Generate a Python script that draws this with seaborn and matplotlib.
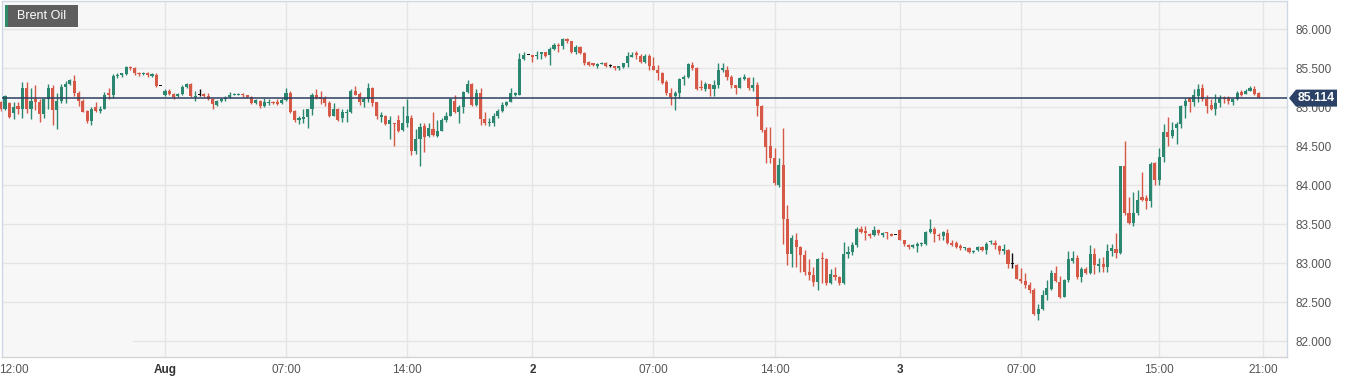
import numpy as np
import pandas as pd
import matplotlib
matplotlib.use("Agg")
import matplotlib.pyplot as plt
import seaborn as sns
from matplotlib.patches import Polygon, Rectangle

# ---------------- data (15-minute candles) ----------------
opens = [85.06, 84.97, 85.05, 84.92, 85.01, 84.98, 85.25, 84.97, 85.10, 85.06,
         84.91, 85.10, 85.25, 84.96, 85.08, 85.26, 85.30, 85.33, 85.18, 85.08,
         84.95, 84.82, 85.00, 84.95, 84.98, 85.18, 85.15, 85.40, 85.41, 85.42,
         85.51, 85.50, 85.44, 85.42, 85.44, 85.40, 85.41, 85.27, 85.16, 85.21,
         85.17, 85.14, 85.17, 85.26, 85.30, 85.13, 85.16, 85.17, 85.14, 85.10,
         85.03, 85.08, 85.10, 85.13, 85.15, 85.15, 85.17, 85.15, 85.13, 85.05,
         85.08, 85.01, 85.05, 85.07, 85.06, 85.05, 85.09, 85.18, 84.95, 84.83,
         84.85, 84.87, 84.97, 85.16, 85.13, 85.12, 85.05, 84.88, 84.98, 84.86,
         84.92, 84.94, 85.21, 85.17, 85.06, 85.10, 85.24, 85.06, 84.87, 84.89,
         84.78, 84.79, 84.83, 84.70, 84.79, 84.86, 84.43, 84.59, 84.76, 84.63,
         84.72, 84.63, 84.69, 84.83, 84.89, 85.08, 84.94, 85.00, 85.19, 85.30,
         85.03, 85.18, 84.84, 84.79, 84.80, 84.89, 84.95, 85.03, 85.07, 85.15,
         85.16, 85.61, 85.67, 85.67, 85.65, 85.68, 85.70, 85.67, 85.75, 85.80,
         85.78, 85.87, 85.84, 85.71, 85.765, 85.69, 85.58, 85.56, 85.53, 85.55,
         85.56, 85.525, 85.525, 85.50, 85.51, 85.56, 85.645, 85.69, 85.65, 85.58,
         85.65, 85.525, 85.48, 85.44, 85.32, 85.18, 85.14, 85.18, 85.36, 85.39,
         85.54, 85.50, 85.26, 85.23, 85.29, 85.23, 85.28, 85.47, 85.47, 85.39,
         85.28, 85.25, 85.36, 85.37, 85.25, 85.28, 85.01, 84.71, 84.50, 84.34,
         84.00, 84.26, 83.57, 83.12, 83.30, 83.21, 83.10, 82.88, 82.85, 82.76,
         83.06, 83.05, 82.74, 82.85, 82.82, 82.74, 83.11, 83.14, 83.23, 83.43,
         83.41, 83.37, 83.36, 83.42, 83.36, 83.39, 83.37, 83.36, 83.42, 83.29,
         83.23, 83.21, 83.22, 83.24, 83.24, 83.40, 83.43, 83.36, 83.35, 83.39,
         83.26, 83.26, 83.22, 83.19, 83.19, 83.14, 83.17, 83.20, 83.17, 83.27,
         83.26, 83.22, 83.16, 83.17, 82.99, 82.98, 82.80, 82.77, 82.72, 82.65,
         82.35, 82.41, 82.59, 82.67, 82.87, 82.76, 82.57, 82.78, 83.03, 83.06,
         82.82, 82.92, 82.87, 83.12, 82.96, 82.99, 82.95, 83.15, 83.18, 83.13,
         84.24, 83.64, 83.51, 83.64, 83.85, 83.83, 83.79, 84.28, 84.07, 84.36,
         84.68, 84.63, 84.73, 84.78, 85.01, 85.11, 85.07, 85.14, 85.24, 85.10,
         85.03, 84.98, 85.05, 85.12, 85.11, 85.07, 85.10, 85.19, 85.17, 85.21,
         85.23, 85.18]
highs = [85.08, 85.16, 85.06, 85.06, 85.06, 85.32, 85.32, 85.25, 85.28, 85.10,
         85.11, 85.30, 85.28, 85.18, 85.30, 85.33, 85.36, 85.41, 85.20, 85.10,
         84.96, 85.00, 85.06, 85.01, 85.19, 85.24, 85.42, 85.43, 85.44, 85.53,
         85.53, 85.51, 85.45, 85.45, 85.45, 85.44, 85.43, 85.27, 85.23, 85.23,
         85.18, 85.18, 85.28, 85.31, 85.31, 85.21, 85.23, 85.18, 85.18, 85.11,
         85.09, 85.11, 85.14, 85.19, 85.18, 85.18, 85.18, 85.15, 85.14, 85.10,
         85.09, 85.11, 85.10, 85.08, 85.10, 85.11, 85.25, 85.21, 84.96, 84.88,
         84.97, 84.98, 85.18, 85.23, 85.20, 85.14, 85.08, 85.05, 84.99, 84.98,
         84.98, 85.23, 85.27, 85.19, 85.13, 85.31, 85.26, 85.07, 84.94, 84.90,
         84.88, 84.80, 84.90, 85.01, 85.10, 84.90, 84.72, 84.80, 84.79, 84.79,
         84.94, 84.83, 84.86, 84.94, 85.11, 85.16, 85.03, 85.20, 85.35, 85.31,
         85.23, 85.24, 84.94, 84.86, 84.92, 84.98, 85.06, 85.08, 85.24, 85.19,
         85.69, 85.70, 85.67, 85.67, 85.72, 85.71, 85.71, 85.77, 85.82, 85.82,
         85.89, 85.88, 85.85, 85.79, 85.78, 85.70, 85.59, 85.56, 85.57, 85.58,
         85.58, 85.545, 85.525, 85.53, 85.57, 85.71, 85.71, 85.72, 85.68, 85.68,
         85.68, 85.64, 85.54, 85.45, 85.35, 85.24, 85.21, 85.37, 85.41, 85.57,
         85.58, 85.51, 85.35, 85.32, 85.30, 85.35, 85.56, 85.56, 85.525, 85.41,
         85.28, 85.39, 85.42, 85.39, 85.39, 85.32, 85.03, 84.75, 84.74, 84.47,
         84.34, 84.73, 83.74, 83.36, 83.38, 83.22, 83.17, 83.05, 82.95, 83.07,
         83.14, 83.07, 82.92, 82.95, 82.83, 83.27, 83.22, 83.27, 83.46, 83.47,
         83.47, 83.38, 83.47, 83.44, 83.40, 83.40, 83.39, 83.36, 83.44, 83.30,
         83.25, 83.25, 83.27, 83.27, 83.41, 83.57, 83.46, 83.38, 83.41, 83.43,
         83.29, 83.28, 83.24, 83.21, 83.20, 83.17, 83.22, 83.22, 83.27, 83.30,
         83.29, 83.23, 83.24, 83.18, 83.13, 82.99, 82.93, 82.87, 82.76, 82.68,
         82.47, 82.65, 82.78, 82.91, 82.96, 82.83, 82.80, 83.15, 83.15, 83.10,
         82.95, 82.95, 83.23, 83.19, 83.06, 83.08, 83.25, 83.24, 83.38, 84.24,
         84.56, 83.85, 83.91, 83.93, 84.17, 83.87, 84.30, 84.30, 84.47, 84.78,
         84.87, 84.81, 84.81, 85.03, 85.11, 85.13, 85.23, 85.30, 85.30, 85.15,
         85.10, 85.17, 85.15, 85.14, 85.14, 85.11, 85.20, 85.22, 85.23, 85.27,
         85.27, 85.19]
lows = [84.95, 84.96, 84.86, 84.85, 84.91, 84.86, 84.92, 84.85, 84.96, 84.81,
        84.86, 84.98, 84.77, 84.72, 85.05, 85.05, 85.28, 85.14, 85.01, 84.93,
        84.79, 84.77, 84.93, 84.92, 84.97, 85.10, 85.12, 85.37, 85.39, 85.41,
        85.48, 85.41, 85.40, 85.41, 85.39, 85.38, 85.26, 85.27, 85.14, 85.16,
        85.10, 85.13, 85.16, 85.24, 85.13, 85.08, 85.14, 85.13, 85.09, 84.98,
        85.01, 85.06, 85.08, 85.12, 85.15, 85.15, 85.13, 85.12, 85.04, 85.04,
        84.99, 85.00, 85.03, 85.04, 85.03, 85.04, 85.08, 84.92, 84.81, 84.78,
        84.79, 84.73, 84.90, 85.10, 85.04, 85.01, 84.87, 84.88, 84.82, 84.81,
        84.81, 84.92, 85.15, 85.03, 85.00, 85.06, 85.01, 84.84, 84.81, 84.77,
        84.59, 84.50, 84.68, 84.69, 84.75, 84.38, 84.40, 84.24, 84.42, 84.61,
        84.63, 84.61, 84.69, 84.81, 84.88, 84.92, 84.79, 84.92, 85.18, 85.01,
        85.01, 84.77, 84.77, 84.76, 84.76, 84.86, 84.93, 85.01, 85.06, 85.14,
        85.15, 85.60, 85.67, 85.58, 85.62, 85.62, 85.645, 85.54, 85.73, 85.70,
        85.75, 85.825, 85.69, 85.68, 85.68, 85.54, 85.525, 85.525, 85.50, 85.55,
        85.51, 85.51, 85.47, 85.475, 85.50, 85.51, 85.64, 85.62, 85.57, 85.56,
        85.48, 85.475, 85.35, 85.30, 85.15, 85.03, 84.96, 85.11, 85.28, 85.37,
        85.48, 85.22, 85.22, 85.21, 85.14, 85.14, 85.25, 85.45, 85.35, 85.25,
        85.17, 85.24, 85.34, 85.22, 85.21, 84.88, 84.68, 84.28, 84.28, 84.00,
        83.98, 83.25, 82.97, 82.95, 82.95, 82.89, 82.85, 82.78, 82.70, 82.66,
        82.74, 82.72, 82.73, 82.78, 82.72, 82.73, 83.06, 83.10, 83.21, 83.38,
        83.30, 83.32, 83.35, 83.36, 83.33, 83.31, 83.34, 83.36, 83.29, 83.22,
        83.18, 83.19, 83.14, 83.22, 83.23, 83.39, 83.27, 83.30, 83.30, 83.24,
        83.22, 83.19, 83.17, 83.17, 83.13, 83.13, 83.15, 83.16, 83.12, 83.24,
        83.18, 83.12, 83.12, 82.93, 82.93, 82.80, 82.75, 82.68, 82.61, 82.33,
        82.27, 82.40, 82.53, 82.66, 82.76, 82.55, 82.56, 82.76, 83.00, 82.80,
        82.76, 82.86, 82.86, 82.86, 82.89, 82.88, 82.88, 83.09, 83.07, 83.12,
        83.62, 83.50, 83.47, 83.61, 83.79, 83.69, 83.72, 84.00, 84.00, 84.30,
        84.50, 84.60, 84.53, 84.73, 84.86, 84.94, 85.01, 85.07, 85.08, 84.92,
        84.96, 84.90, 85.00, 85.05, 85.04, 85.03, 85.09, 85.14, 85.17, 85.20,
        85.15, 85.11]
closes = [84.97, 85.14, 84.87, 85.00, 84.98, 85.25, 84.97, 85.08, 85.06, 84.91,
          85.10, 85.25, 84.96, 85.08, 85.26, 85.30, 85.34, 85.18, 85.08, 84.94,
          84.82, 84.98, 84.95, 84.98, 85.16, 85.15, 85.40, 85.41, 85.43, 85.51,
          85.50, 85.43, 85.42, 85.44, 85.41, 85.42, 85.27, 85.27, 85.21, 85.17,
          85.13, 85.17, 85.26, 85.30, 85.14, 85.14, 85.16, 85.14, 85.10, 85.04,
          85.08, 85.10, 85.12, 85.16, 85.17, 85.17, 85.15, 85.13, 85.05, 85.09,
          85.01, 85.07, 85.06, 85.05, 85.04, 85.09, 85.18, 84.93, 84.83, 84.86,
          84.87, 84.97, 85.16, 85.12, 85.10, 85.05, 84.88, 84.97, 84.83, 84.93,
          84.94, 85.21, 85.16, 85.06, 85.10, 85.24, 85.05, 84.88, 84.90, 84.78,
          84.83, 84.78, 84.69, 84.79, 84.88, 84.43, 84.59, 84.74, 84.62, 84.73,
          84.64, 84.69, 84.83, 84.89, 85.10, 84.94, 85.00, 85.19, 85.30, 85.03,
          85.18, 84.84, 84.79, 84.81, 84.89, 84.95, 85.03, 85.07, 85.18, 85.18,
          85.61, 85.67, 85.67, 85.645, 85.67, 85.70, 85.66, 85.75, 85.79, 85.78,
          85.87, 85.84, 85.71, 85.765, 85.69, 85.57, 85.54, 85.54, 85.55, 85.57,
          85.53, 85.525, 85.50, 85.525, 85.56, 85.65, 85.67, 85.67, 85.58, 85.65,
          85.525, 85.48, 85.43, 85.31, 85.18, 85.13, 85.18, 85.36, 85.39, 85.55,
          85.50, 85.23, 85.24, 85.29, 85.23, 85.28, 85.48, 85.50, 85.39, 85.28,
          85.25, 85.37, 85.38, 85.25, 85.28, 85.01, 84.71, 84.49, 84.34, 84.02,
          84.26, 83.57, 83.12, 83.32, 83.21, 83.10, 82.88, 82.85, 82.76, 83.05,
          83.05, 82.74, 82.86, 82.82, 82.74, 83.11, 83.14, 83.23, 83.43, 83.40,
          83.38, 83.35, 83.42, 83.38, 83.38, 83.38, 83.35, 83.36, 83.29, 83.24,
          83.20, 83.23, 83.25, 83.26, 83.40, 83.43, 83.37, 83.34, 83.40, 83.26,
          83.23, 83.21, 83.19, 83.20, 83.14, 83.16, 83.20, 83.17, 83.25, 83.28,
          83.23, 83.16, 83.18, 82.99, 82.99, 82.80, 82.77, 82.72, 82.65, 82.35,
          82.41, 82.59, 82.68, 82.87, 82.77, 82.57, 82.78, 83.05, 83.06, 82.82,
          82.92, 82.87, 83.12, 82.97, 82.99, 82.95, 83.16, 83.19, 83.13, 84.24,
          83.64, 83.51, 83.64, 83.81, 83.81, 83.79, 84.27, 84.07, 84.36, 84.68,
          84.62, 84.71, 84.78, 85.01, 85.08, 85.06, 85.15, 85.23, 85.10, 85.01,
          84.97, 85.05, 85.12, 85.10, 85.08, 85.10, 85.18, 85.15, 85.21, 85.24,
          85.17, 85.114]

tick_positions = [3, 38, 66, 94, 123, 151, 179, 208, 236, 268, 292]
tick_labels = ["12:00", "Aug", "07:00", "14:00", "2", "07:00", "14:00", "3",
               "07:00", "15:00", "21:00"]
bold_labels = ["Aug", "2", "3"]
y_ticks = [82.0, 82.5, 83.0, 83.5, 84.0, 84.5, 85.0, 85.5, 86.0]
last_price = 85.114
instrument = "Brent Oil"

# ---------------- style ----------------
sns.set_theme(style="white")
plt.rcParams['font.family'] = ['Liberation Sans', 'DejaVu Sans']

GREEN = "#2b8770"
RED = "#d65846"
NAVY = "#2c3f5f"
GRID = "#e5e5e5"

df = pd.DataFrame({"open": opens, "high": highs, "low": lows, "close": closes})
df["idx"] = np.arange(len(df))
diff = df["close"] - df["open"]
df["color"] = np.where(diff > 0, GREEN, np.where(diff < 0, RED, "#111111"))
df["bottom"] = df[["open", "close"]].min(axis=1)
df["height"] = np.maximum(diff.abs(), 0.012)

W, H = 1352, 383
fig = plt.figure(figsize=(W / 100, H / 100), dpi=100)
fig.patch.set_facecolor("white")
ax = fig.add_axes([2 / W, (H - 357) / H, 1285 / W, 356 / H])
ax.set_facecolor("#f7f7f7")

px_per_candle = 4.323
ax.set_xlim((2 - 0.7) / px_per_candle, (1287 - 0.7) / px_per_candle)
ax.set_ylim(81.795, 86.359)

# grid
for yv in y_ticks:
    xmin = 131 / 1285 if yv == 82.0 else 0
    ax.axhline(yv, xmin=xmin, color=GRID, lw=1, zorder=0)
for xv in tick_positions[1:]:
    ax.axvline(xv, color=GRID, lw=1, zorder=0)

# candles
ax.vlines(df["idx"], df["low"], df["high"], colors=df["color"], lw=1,
          zorder=2, clip_on=False)
ax.bar(df["idx"], df["height"], bottom=df["bottom"], width=0.72,
       color=df["color"], linewidth=0, zorder=3, clip_on=False)

# last price line
sns.lineplot(x=[ax.get_xlim()[0], ax.get_xlim()[1]], y=[last_price, last_price],
             ax=ax, color=NAVY, lw=1.1, zorder=4)

# axes
ax.yaxis.tick_right()
ax.set_yticks(y_ticks)
ax.set_yticklabels([f"{v:.3f}" for v in y_ticks])
ax.tick_params(axis="y", length=0, pad=6, labelsize=8.5, labelcolor="#555555")
ax.set_xticks(tick_positions)
ax.set_xticklabels(tick_labels)
ax.tick_params(axis="x", length=0, pad=5, labelsize=8.5, labelcolor="#555555")
for lab in ax.get_xticklabels():
    if lab.get_text() in bold_labels:
        lab.set_fontweight("bold")
        lab.set_color("#333333")
ax.set_xlabel("")
ax.set_ylabel("")
for s in ax.spines.values():
    s.set_color("#cfd7e4")
    s.set_linewidth(1)
ax.spines["bottom"].set_color("#d4d4d4")

# last price tag
yc = ax.transData.transform((0, last_price))[1]
pts = [(1289, yc), (1296, yc + 8.5), (1337, yc + 8.5), (1337, yc - 8.5), (1296, yc - 8.5)]
pts = [(x / W, y / H) for x, y in pts]
fig.add_artist(Polygon(pts, closed=True, transform=fig.transFigure,
                       facecolor="#2b4266", edgecolor="none", zorder=10))
fig.text(1316 / W, yc / H, f"{last_price:.3f}", color="white", fontsize=8.8,
         fontweight="bold", ha="center", va="center", zorder=11)

# instrument badge
fig.add_artist(Rectangle((5 / W, (H - 27) / H), 73 / W, 22 / H,
                         transform=fig.transFigure, facecolor="#5e5e5e",
                         edgecolor="none", zorder=10))
fig.add_artist(Rectangle((5 / W, (H - 27) / H), 2.5 / W, 22 / H,
                         transform=fig.transFigure, facecolor="#2f8a6c",
                         edgecolor="none", zorder=11))
fig.text(17 / W, (H - 16) / H, instrument, color="white", fontsize=9,
         ha="left", va="center", zorder=12)

fig.savefig("out.png", dpi=100, facecolor="white")
